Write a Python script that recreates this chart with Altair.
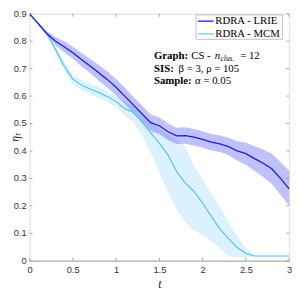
import altair as alt
import pandas as pd

# ---- data ----
t = [0.0, 0.1, 0.2, 0.3, 0.4, 0.5, 0.6, 0.7, 0.8, 0.9, 1.0,
     1.1, 1.2, 1.3, 1.4, 1.5, 1.6, 1.7, 1.8, 1.9, 2.0,
     2.1, 2.2, 2.3, 2.4, 2.5, 2.6, 2.7, 2.8, 2.9, 3.0]

lrie_mean = [0.900, 0.864, 0.828, 0.800, 0.780, 0.758, 0.733, 0.710, 0.685, 0.660, 0.632,
             0.600, 0.568, 0.535, 0.503, 0.492, 0.470, 0.455, 0.456, 0.450, 0.442,
             0.432, 0.426, 0.416, 0.400, 0.390, 0.372, 0.355, 0.335, 0.300, 0.262]
lrie_up = [0.900, 0.868, 0.836, 0.815, 0.800, 0.780, 0.757, 0.736, 0.713, 0.690, 0.662,
           0.630, 0.598, 0.565, 0.533, 0.522, 0.500, 0.485, 0.486, 0.480, 0.472,
           0.462, 0.456, 0.448, 0.435, 0.430, 0.417, 0.405, 0.390, 0.360, 0.328]
lrie_lo = [0.900, 0.860, 0.820, 0.785, 0.760, 0.736, 0.709, 0.684, 0.657, 0.630, 0.602,
           0.570, 0.538, 0.505, 0.473, 0.462, 0.440, 0.425, 0.426, 0.420, 0.412,
           0.402, 0.396, 0.384, 0.365, 0.350, 0.327, 0.305, 0.280, 0.240, 0.200]

mcm_mean = [0.900, 0.864, 0.828, 0.770, 0.710, 0.662, 0.640, 0.626, 0.613, 0.598, 0.580,
            0.555, 0.540, 0.505, 0.466, 0.428, 0.385, 0.325, 0.283, 0.253, 0.210,
            0.162, 0.115, 0.080, 0.048, 0.026, 0.017, 0.017, 0.017, 0.017, 0.017]
mcm_up = [0.900, 0.868, 0.834, 0.782, 0.725, 0.680, 0.660, 0.646, 0.633, 0.618, 0.600,
          0.580, 0.565, 0.540, 0.510, 0.480, 0.460, 0.440, 0.415, 0.345, 0.295,
          0.245, 0.195, 0.140, 0.090, 0.045, 0.018, 0.018, 0.018, 0.018, 0.018]
mcm_lo = [0.900, 0.860, 0.822, 0.758, 0.695, 0.644, 0.620, 0.606, 0.593, 0.578, 0.560,
          0.530, 0.505, 0.455, 0.395, 0.320, 0.250, 0.186, 0.140, 0.108, 0.095,
          0.070, 0.045, 0.016, 0.012, 0.012, 0.016, 0.016, 0.016, 0.016, 0.016]

series_names = ["RDRA - LRIE", "RDRA - MCM"]
x_ticks = [0, 0.5, 1, 1.5, 2, 2.5, 3]
y_ticks = [0, 0.1, 0.2, 0.3, 0.4, 0.5, 0.6, 0.7, 0.8, 0.9]
y_tick_labels = ["0", "0.1", "0.2", "0.3", "0.4", "0.5", "0.6", "0.7", "0.8", "0.9"]

# ---- styling ----
W, H = 265, 252
Y_MAX = 0.9
C_LRIE, C_LRIE_BAND = "#1c1ce0", "#3f3ff0"
C_MCM = "#4DBEEE"
AX = "#a6a6a6"
SERIF = "Liberation Serif"
SANS = "Liberation Sans"

df = pd.DataFrame({
    "t": t * 2,
    "mean": lrie_mean + mcm_mean,
    "up": lrie_up + mcm_up,
    "lo": lrie_lo + mcm_lo,
    "series": [series_names[0]] * len(t) + [series_names[1]] * len(t),
})

xs = alt.Scale(domain=[0, 3], nice=False, zero=False)
ys = alt.Scale(domain=[0, Y_MAX], nice=False, zero=False)

xax = alt.Axis(values=x_ticks, format="~g", title="t", titleFont=SERIF, titleFontStyle="italic",
               titleFontWeight="normal", titleFontSize=12, titleColor="#222", titleY=23,
               titleBaseline="middle", labelFont=SANS, labelFontSize=9.5, labelColor="#333",
               labelPadding=4, ticks=False, grid=False, domainColor=AX, labelFlush=False,
               labelOverlap=False)

base = alt.Chart(df)
xe = alt.X("t:Q", scale=xs, axis=xax, title="t")
band = base.mark_area(opacity=1).encode(
    x=xe,
    y=alt.Y("lo:Q", scale=ys, axis=None),
    y2="up:Q",
)
band_mcm = band.transform_filter(alt.datum.series == series_names[1]).mark_area(
    color=C_MCM, opacity=0.2)
band_lrie = band.transform_filter(alt.datum.series == series_names[0]).mark_area(
    color=C_LRIE_BAND, opacity=0.33)

ym = alt.Y("mean:Q", scale=ys, axis=None)
line_mcm = base.transform_filter(alt.datum.series == series_names[1]).mark_line(
    color=C_MCM, strokeWidth=1.1).encode(x=xe, y=ym)
line_lrie = base.transform_filter(alt.datum.series == series_names[0]).mark_line(
    color=C_LRIE, strokeWidth=1.3).encode(x=xe, y=ym)

# inward ticks (MATLAB style)
xt = alt.Chart(pd.DataFrame({"v": x_ticks}))
yt = alt.Chart(pd.DataFrame({"v": y_ticks}))
xv = alt.X("v:Q", scale=xs, axis=xax, title="t")
yv = alt.Y("v:Q", scale=ys, axis=None)
tick_layers = [
    xt.mark_rule(color=AX).encode(x=xv, y=alt.value(H), y2=alt.value(H - 3)),
    xt.mark_rule(color=AX).encode(x=xv, y=alt.value(0), y2=alt.value(3)),
    yt.mark_rule(color=AX).encode(y=yv, x=alt.value(0), x2=alt.value(3)),
    yt.mark_rule(color=AX).encode(y=yv, x=alt.value(W), x2=alt.value(W - 3)),
]

one = pd.DataFrame({"k": [0]})


def txt(s, x, y, size=11, weight="normal", style="normal", color="black", angle=0,
        align="left", font=SERIF):
    return alt.Chart(one).mark_text(text=s, align=align, baseline="middle", font=font,
                                    fontSize=size, fontWeight=weight, fontStyle=style, angle=angle,
                                    color=color).encode(x=alt.value(x), y=alt.value(y))


# y tick labels, one text each, placed at the linear-scale position of each tick
ylabel_layers = [
    txt(lab, -3, H * (1 - v / Y_MAX), size=9.5, color="#333", align="right", font=SANS)
    for v, lab in zip(y_ticks, y_tick_labels)
]

# y-axis title
ytitle = txt("ηₜ", -15, H / 2, size=12, style="italic", color="#222", angle=270, align="center")

# legend (custom, MATLAB-like box)
legend_layers = [
    alt.Chart(one).mark_rect(fill="white", stroke="#bdbdbd", strokeWidth=1).encode(
        x=alt.value(170), x2=alt.value(258), y=alt.value(1), y2=alt.value(26)),
    alt.Chart(one).mark_rule(color=C_LRIE, strokeWidth=1.3).encode(
        x=alt.value(172), x2=alt.value(188), y=alt.value(7.5)),
    alt.Chart(one).mark_rule(color=C_MCM, strokeWidth=1.1).encode(
        x=alt.value(172), x2=alt.value(188), y=alt.value(20.5)),
    txt(series_names[0], 189.5, 7.5),
    txt(series_names[1], 189.5, 20.5),
]

# annotation
ann = [
    txt("Graph:", 127, 43, weight="bold"),
    txt("CS -", 165, 43),
    txt("n", 189, 43, style="italic"),
    txt("clus.", 195, 46, size=7.5, style="italic"),
    txt("= 12", 215, 43),
    txt("SIS:", 127, 56, weight="bold"),
    txt("β = 3, ρ = 105", 152, 56),
    txt("Sample:", 127, 69, weight="bold"),
    txt("α = 0.05", 169, 69),
]

chart = alt.layer(band_mcm, band_lrie, line_mcm, line_lrie, *tick_layers, *ylabel_layers, ytitle,
                  *legend_layers, *ann).properties(
    width=W, height=H,
    autosize=alt.AutoSizeParams(type="none"),
    padding={"left": 22, "top": 3, "right": 8, "bottom": 27},
).configure_view(stroke=AX, strokeWidth=1).configure(background="white")

chart.save("out.html", embed_options={"renderer": "svg", "actions": False})
